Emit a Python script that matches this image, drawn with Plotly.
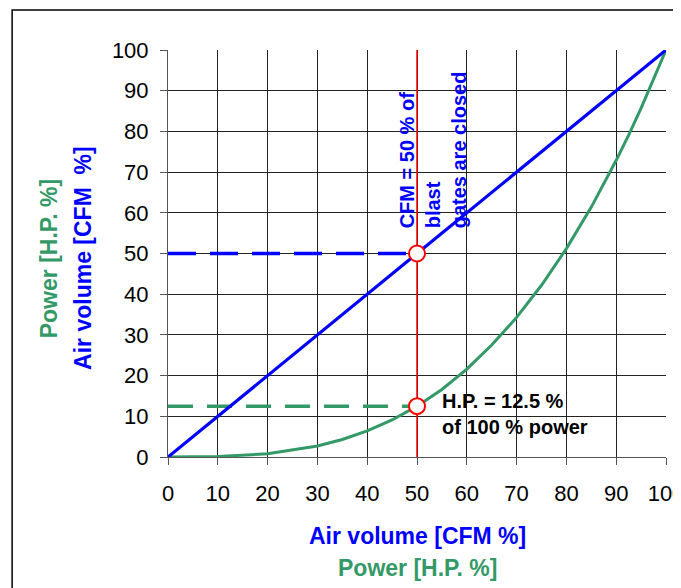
import plotly.graph_objects as go

# Data
cfm_line_x = [0, 100]
cfm_line_y = [0, 100]
power_x = [0, 10, 20, 30, 35, 40, 45, 50, 55, 60, 65, 70, 75, 80, 85, 90, 92.5, 95, 100]
power_y = [0, 0.1, 0.8, 2.7, 4.3, 6.4, 9.1, 12.5, 16.6, 21.6, 27.5, 34.3, 42.2, 51.2, 61.4, 72.9, 79.1, 85.7, 100]
ref_cfm = 50
ref_air = 50
ref_power = 12.5
tick_vals = [0, 10, 20, 30, 40, 50, 60, 70, 80, 90, 100]

BLUE = "#0000FF"
GREEN = "#339966"
RED = "#FF0000"
FONT = "Liberation Sans, Arial, sans-serif"

fig = go.Figure()

# dashed guides
fig.add_trace(go.Scatter(x=[0, ref_cfm], y=[ref_air, ref_air], mode="lines",
                         line=dict(color=BLUE, width=3.5, dash="28px,14px"), hoverinfo="skip"))
fig.add_trace(go.Scatter(x=[0, ref_cfm], y=[ref_power, ref_power], mode="lines",
                         line=dict(color=GREEN, width=3.5, dash="25px,14px"), hoverinfo="skip"))
# red vertical
fig.add_trace(go.Scatter(x=[ref_cfm, ref_cfm], y=[0, 100], mode="lines",
                         line=dict(color=RED, width=1.5), hoverinfo="skip"))
# curves
fig.add_trace(go.Scatter(x=power_x, y=power_y, mode="lines",
                         line=dict(color=GREEN, width=3)))
fig.add_trace(go.Scatter(x=cfm_line_x, y=cfm_line_y, mode="lines",
                         line=dict(color=BLUE, width=3.2)))
# circles
fig.add_trace(go.Scatter(x=[ref_cfm, ref_cfm], y=[ref_air, ref_power], mode="markers",
                         marker=dict(size=16, color="white", line=dict(color=RED, width=2)),
                         cliponaxis=False))

axis_common = dict(range=[0, 100], tickvals=tick_vals, showgrid=True, gridcolor="#222222",
                   gridwidth=1, showline=True, linecolor="#555555", linewidth=1,
                   ticks="outside", ticklen=7, tickcolor="#555555", zeroline=False,
                   tickfont=dict(family=FONT, size=22, color="black"), fixedrange=True,
                   ticklabeloverflow="allow", automargin=False)

# the page body adds an 8px margin, so the figure is sized to fit the 681x588 window
fig.update_layout(
    width=673, height=580,
    margin=dict(l=160, r=15, t=42, b=131, autoexpand=False),
    paper_bgcolor="white", plot_bgcolor="white",
    showlegend=False,
    xaxis=dict(**axis_common),
    yaxis=dict(**axis_common, ticklabelstandoff=7),
    font=dict(family=FONT),
)
fig.update_xaxes(ticklabelstandoff=10)

# outer border
fig.add_shape(type="rect", xref="paper", yref="paper", x0=-0.313, y0=-3, x1=3, y1=1.098,
              line=dict(color="black", width=1.5), fillcolor="rgba(0,0,0,0)", layer="below")

bold = dict(family=FONT, size=23)
# axis titles
fig.add_annotation(xref="paper", yref="paper", x=0.5, y=-0.194, yanchor="middle", showarrow=False,
                   text="<b>Air volume [CFM %]</b>", font=dict(**bold, color=BLUE))
fig.add_annotation(xref="paper", yref="paper", x=0.5, y=-0.273, yanchor="middle", showarrow=False,
                   text="<b>Power [H.P. %]</b>", font=dict(**bold, color=GREEN))
fig.add_annotation(xref="paper", yref="paper", x=-0.24, y=0.487, xanchor="center", showarrow=False,
                   textangle=-90, text="<b>Power [H.P. %]</b>", font=dict(**bold, color=GREEN))
fig.add_annotation(xref="paper", yref="paper", x=-0.172, y=0.49, xanchor="center", showarrow=False,
                   textangle=-90, text="<b>Air volume [CFM  %]</b>", font=dict(**bold, color=BLUE))

# in-plot notes
fig.add_annotation(x=53.2, y=55.8, xanchor="center", yanchor="bottom", showarrow=False,
                   textangle=-90, align="left",
                   text="<b>CFM = 50 % of<br>blast<br>gates are closed</b>",
                   font=dict(family=FONT, size=20, color=BLUE))
fig.add_annotation(x=54.6, y=10.6, xanchor="left", yanchor="middle", showarrow=False,
                   align="left", text="<b>H.P. = 12.5 %<br>of 100 % power</b>",
                   font=dict(family=FONT, size=20, color="black"))

fig.write_html("out.html")
